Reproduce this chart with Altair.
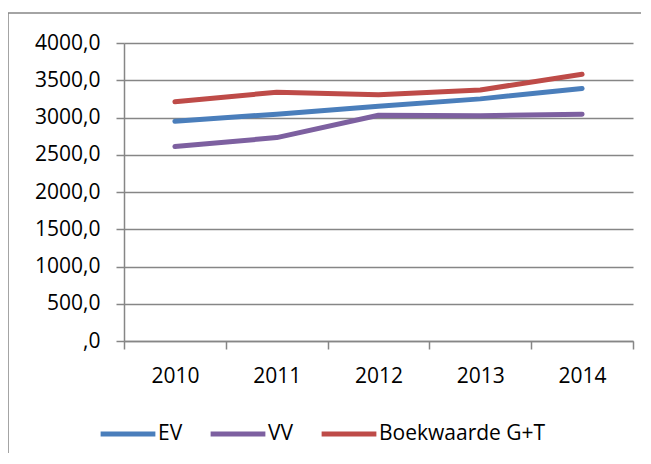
import altair as alt
import pandas as pd

years = ["2010", "2011", "2012", "2013", "2014"]
ev = [2950, 3045, 3150, 3250, 3390]
vv = [2610, 2730, 3030, 3025, 3045]
bw = [3210, 3340, 3305, 3370, 3580]
series = ["EV", "VV", "Boekwaarde G+T"]
colors = ["#4A7EBB", "#7D60A0", "#BE4B48"]
y_ticks = [0, 500, 1000, 1500, 2000, 2500, 3000, 3500, 4000]

rows = []
for name, vals in zip(series, [ev, vv, bw]):
    for yr, v in zip(years, vals):
        rows.append({"jaar": yr, "waarde": v, "reeks": name})
df = pd.DataFrame(rows)

W, H = 509, 298
PL, PT, PR, PB = 116, 35, 8, 112
GRAY = "#868686"
FONT = "Open Sans"

lines = alt.Chart(df).mark_line(strokeWidth=5, strokeCap="round", strokeJoin="round").encode(
    x=alt.X(
        "jaar:N",
        scale=alt.Scale(type="band", paddingInner=0, paddingOuter=0),
        bandPosition=0.5,
        axis=alt.Axis(
            title=None, labelAngle=0, tickBand="extent", grid=False,
            domainColor=GRAY, domainWidth=1.5, tickColor=GRAY, tickWidth=1.5,
            tickSize=8, labelPadding=16, labelFont=FONT, labelFontSize=21,
            labelColor="black",
        ),
    ),
    y=alt.Y(
        "waarde:Q",
        scale=alt.Scale(domain=[0, 4000]),
        axis=alt.Axis(
            title=None, values=y_ticks, grid=True, gridColor=GRAY, gridWidth=1.5,
            domainColor=GRAY, domainWidth=1.5, tickColor=GRAY, tickWidth=1.5,
            tickSize=8, labelPadding=16, labelFont=FONT, labelFontSize=21,
            labelColor="black",
            labelExpr="datum.value == 0 ? ',0' : replace(format(datum.value, '.1f'), '.', ',')",
        ),
    ),
    color=alt.Color(
        "reeks:N",
        scale=alt.Scale(domain=series, range=colors),
        sort=series,
        legend=alt.Legend(
            title=None, orient="none", direction="horizontal", legendX=-26, legendY=361,
            symbolType="stroke", symbolSize=3000, symbolStrokeWidth=5,
            labelFont=FONT, labelFontSize=21, labelColor="black", labelOffset=0,
            labelLimit=400, columnPadding=17,
        ),
    ),
)

one = pd.DataFrame({"a": [0]})
frame_top = alt.Chart(one).mark_rule(stroke=GRAY, strokeWidth=1.5).encode(
    x=alt.value(-PL), x2=alt.value(W + PR), y=alt.value(-PT + 5),
)
frame_left = alt.Chart(one).mark_rule(stroke=GRAY, strokeWidth=1.5).encode(
    x=alt.value(-PL), y=alt.value(-PT + 5), y2=alt.value(H + PB),
)

chart = alt.layer(frame_top, frame_left, lines).properties(
    width=W, height=H,
    autosize=alt.AutoSizeParams(type="none"),
    padding={"left": PL, "top": PT, "right": PR, "bottom": PB},
).configure_view(stroke=None)

chart.save("out.html", embed_options={"renderer": "svg", "actions": False})
